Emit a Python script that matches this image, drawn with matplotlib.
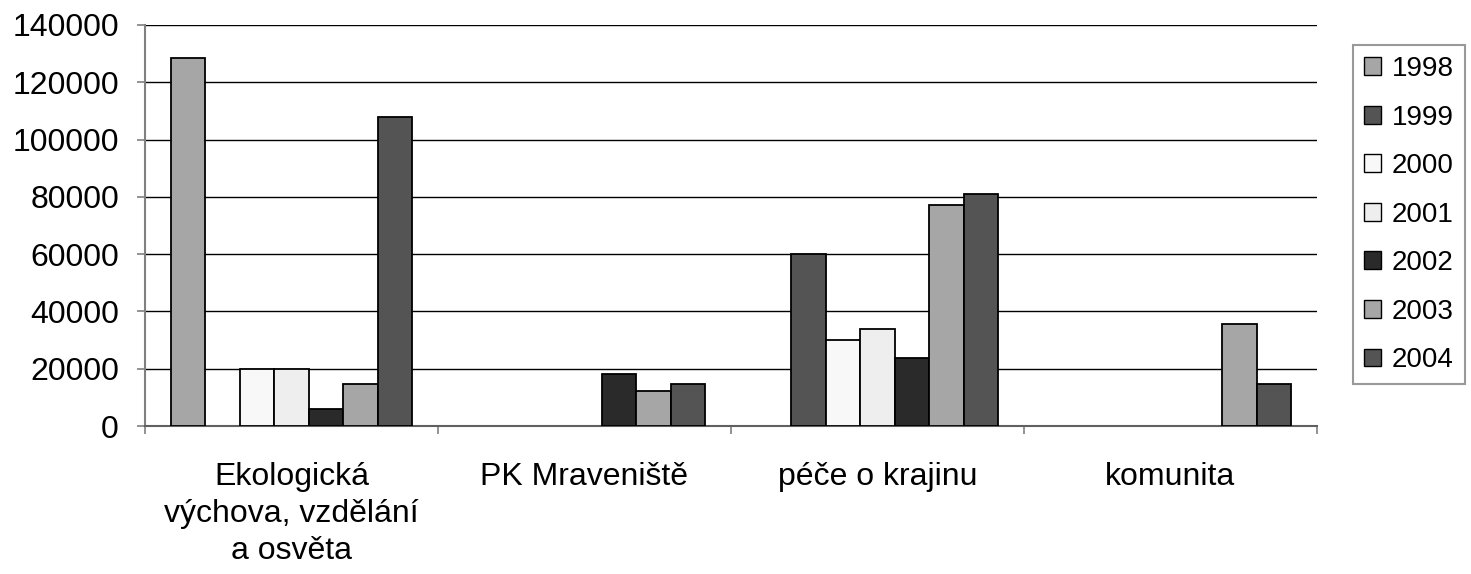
import numpy as np
import matplotlib
matplotlib.use('Agg')
import matplotlib.pyplot as plt

plt.rcParams['font.family'] = ['Liberation Sans', 'DejaVu Sans']

# ===========================================================
# Data
# ===========================================================
categories = ["Ekologická\nvýchova, vzdělání\na osvěta", "PK Mraveniště",
              "péče o krajinu", "komunita"]
years = ["1998", "1999", "2000", "2001", "2002", "2003", "2004"]

v1998 = [128500, 0, 0, 0]
v1999 = [0, 0, 60000, 0]
v2000 = [20000, 0, 30000, 0]
v2001 = [20000, 0, 34000, 0]
v2002 = [5800, 18000, 23700, 0]
v2003 = [14800, 12200, 77000, 35700]
v2004 = [107800, 14800, 81000, 14700]
series = [v1998, v1999, v2000, v2001, v2002, v2003, v2004]

colors = ['#a6a6a6', '#545454', '#f8f8f8', '#eeeeee', '#2a2a2a', '#a6a6a6', '#545454']
yticks = [0, 20000, 40000, 60000, 80000, 100000, 120000, 140000]

# ===========================================================
# Plot
# ===========================================================
fig = plt.figure(figsize=(14.71, 5.74), dpi=100)
ax = fig.add_axes([145 / 1471, 1 - 426 / 574, (1317 - 145) / 1471, (426 - 25) / 574])

n = len(series)
w = 1 / (n + 1.5)          # Excel-like gap width of 150 %
x = np.arange(len(categories))
handles = []
for i, (vals, col) in enumerate(zip(series, colors)):
    vals = np.array(vals, dtype=float)
    pos = x - 0.5 + 0.75 * w + i * w + w / 2
    keep = vals > 0
    ax.bar(pos[keep], vals[keep], width=w, color=col, edgecolor='black',
           linewidth=1.3, zorder=3)
    handles.append(plt.Rectangle((0, 0), 1, 1, facecolor=col, edgecolor='black',
                                 linewidth=1.0))

ax.set_xlim(-0.5, len(categories) - 0.5)
ax.set_ylim(0, 140000)
ax.set_yticks(yticks)
ax.set_yticklabels([str(t) for t in yticks], fontsize=23)
ax.yaxis.grid(True, color='black', linewidth=1.0, zorder=0)
ax.set_axisbelow(True)

# group boundaries as major ticks, category names as minor tick labels
ax.set_xticks(np.arange(len(categories) + 1) - 0.5)
ax.set_xticklabels([])
ax.set_xticks(x, minor=True)
ax.set_xticklabels(categories, minor=True, fontsize=23, linespacing=1.3)
ax.tick_params(axis='x', which='minor', length=0, pad=26)
ax.tick_params(axis='x', which='major', length=5.8, color='#808080', width=1.2)
ax.tick_params(axis='y', length=5.8, color='#808080', width=1.2, pad=13)

for s in ['top', 'right']:
    ax.spines[s].set_visible(False)
ax.spines['left'].set_color('#808080')
ax.spines['left'].set_linewidth(1.5)
ax.spines['bottom'].set_color('#606060')
ax.spines['bottom'].set_linewidth(1.5)

leg = fig.legend(handles, years, loc='upper left',
                 bbox_to_anchor=(1353 / 1471, 1 - 45 / 574),
                 fontsize=20, frameon=True, fancybox=False, edgecolor='#808080',
                 handlelength=0.6, handleheight=0.6, handletextpad=0.4,
                 labelspacing=0.81, borderpad=0.4, borderaxespad=0)
leg.get_frame().set_linewidth(1.5)

fig.savefig('out.png', dpi=100)
